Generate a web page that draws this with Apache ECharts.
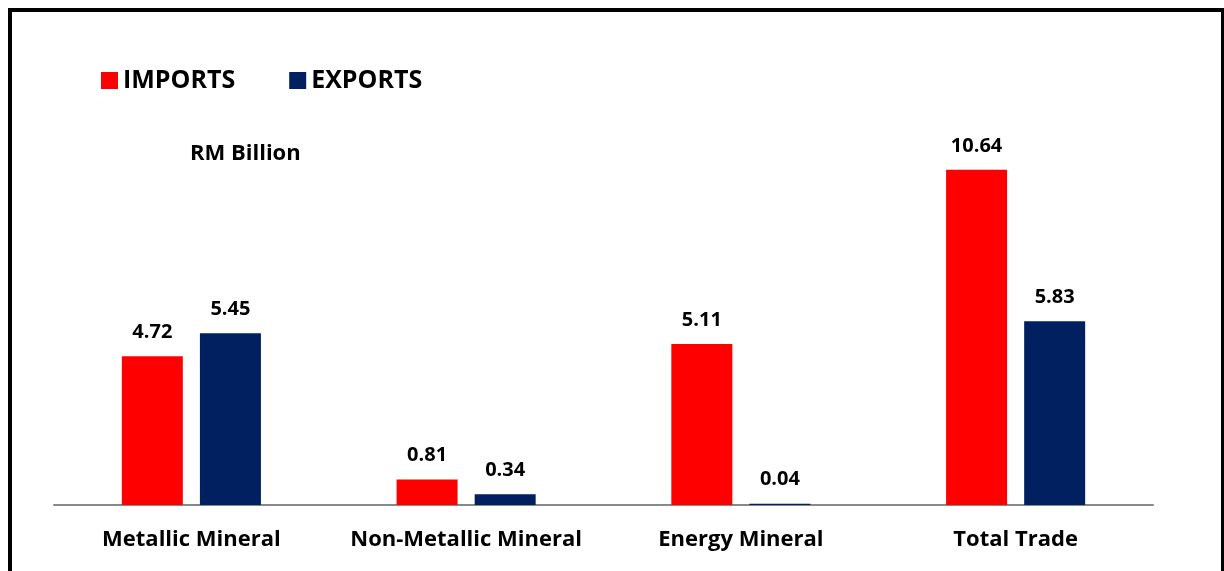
<!DOCTYPE html>
<html>
<head>
<meta charset="utf-8">
<script src="https://cdn.jsdelivr.net/npm/echarts@6/dist/echarts.min.js"></script>
<style>
  html, body { margin: 0; padding: 0; background: #fff; }
  #chart { width: 1224px; height: 571px; }
</style>
</head>
<body>
<div id="chart"></div>
<script>
// data
const categories = ['Metallic Mineral', 'Non-Metallic Mineral', 'Energy Mineral', 'Total Trade']
const imports = [4.72, 0.81, 5.11, 10.64]
const exports = [5.45, 0.34, 0.04, 5.83]

const font = '"Open Sans", Lato, sans-serif'

const valueLabel = {
  show: true,
  position: 'top',
  distance: 14,
  fontFamily: font,
  fontWeight: 'bold',
  fontSize: 20,
  color: '#000',
  formatter: p => p.value.toFixed(2)
}

const chart = echarts.init(document.getElementById('chart'))
chart.setOption({
  animation: false,
  backgroundColor: '#fff',
  textStyle: { fontFamily: font },
  legend: {
    left: 96,
    top: 63,
    itemWidth: 17,
    itemHeight: 17,
    itemGap: 54,
    icon: 'rect',
    textStyle: { fontFamily: font, fontWeight: 'bold', fontSize: 25, color: '#000' },
    data: ['IMPORTS', 'EXPORTS']
  },
  graphic: [
    {
      type: 'rect',
      shape: { x: 10, y: 10, width: 1213, height: 600 },
      style: { fill: 'none', stroke: '#000', lineWidth: 4 },
      silent: true
    },
    {
      type: 'text',
      left: 190,
      top: 143,
      style: { text: 'RM Billion', fontFamily: font, fontWeight: 'bold', fontSize: 22, fill: '#000' }
    }
  ],
  grid: { left: 54, right: 71, top: 127, bottom: 66, containLabel: false },
  xAxis: {
    type: 'category',
    data: categories,
    axisLine: { lineStyle: { color: '#888', width: 2 } },
    axisTick: { show: false },
    axisLabel: {
      interval: 0,
      hideOverlap: false,
      fontFamily: font,
      fontWeight: 'bold',
      fontSize: 22,
      color: '#000',
      margin: 24
    }
  },
  yAxis: {
    type: 'value',
    min: 0,
    max: 12,
    show: false,
    splitLine: { show: false }
  },
  series: [
    {
      name: 'IMPORTS',
      type: 'bar',
      data: imports,
      barWidth: 61,
      barGap: '28%',
      itemStyle: { color: '#FF0000' },
      label: valueLabel
    },
    {
      name: 'EXPORTS',
      type: 'bar',
      data: exports,
      barWidth: 61,
      itemStyle: { color: '#002060' },
      label: valueLabel
    }
  ]
})
</script>
</body>
</html>
